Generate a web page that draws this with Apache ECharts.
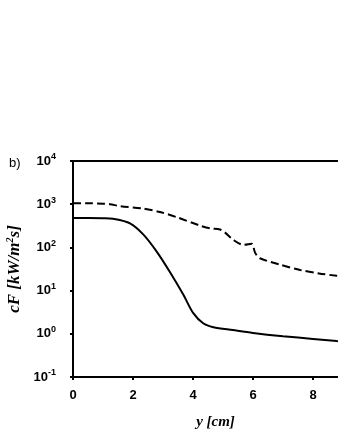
<!DOCTYPE html>
<html>
<head>
<meta charset="utf-8">
<script src="https://cdn.jsdelivr.net/npm/echarts@6/dist/echarts.min.js"></script>
<style>
  html, body { margin: 0; padding: 0; background: #fff; }
  #chart { width: 338px; height: 437px; }
</style>
</head>
<body>
<div id="chart"></div>
<script>
// values
var dashedX = [0, 0.5, 1.0, 1.23, 1.57, 2.34, 2.9, 3.46, 4.23, 4.57, 4.9, 5.07, 5.34, 5.68, 5.96, 6.07, 6.23, 6.9, 7.57, 8.2, 8.79, 9.5];
var dashedY = [1050, 1050, 1030, 1000, 900, 790, 660, 500, 320, 275, 260, 220, 150, 115, 122, 75, 56, 40, 30, 25, 22, 19];
var solidX = [0, 0.5, 1.0, 1.33, 1.9, 2.34, 2.79, 3.23, 3.68, 4.01, 4.34, 4.68, 5.33, 6.0, 7.0, 8.0, 8.79, 9.5];
var solidY = [480, 480, 475, 460, 360, 200, 80, 27, 8, 3, 1.75, 1.42, 1.22, 1.05, 0.88, 0.76, 0.68, 0.62];
var xTicks = [0, 2, 4, 6, 8];

function pairs(xs, ys) {
  return xs.map(function (x, i) { return [x, ys[i]]; });
}

var myChart = echarts.init(document.getElementById('chart'));
var option = {
  backgroundColor: '#fff',
  animation: false,
  title: {
    text: 'b)',
    left: 4,
    top: 152,
    textStyle: { fontFamily: 'Liberation Sans', fontSize: 13, fontWeight: 'normal', color: '#000' }
  },
  grid: {
    left: 73,
    top: 161,
    width: 285,
    height: 216,
    outerBoundsMode: 'none',
    containLabel: false,
    show: true,
    borderColor: '#000',
    borderWidth: 2
  },
  xAxis: {
    type: 'value',
    min: 0,
    max: 9.5,
    interval: 2,
    name: 'y [cm]',
    nameLocation: 'middle',
    nameGap: 38,
    nameTextStyle: { fontFamily: 'Liberation Serif', fontStyle: 'italic', fontWeight: 'bold', fontSize: 15, color: '#000' },
    axisLine: { lineStyle: { color: '#000', width: 2 } },
    axisTick: { show: true, length: 3, lineStyle: { color: '#000', width: 2 } },
    splitLine: { show: false },
    axisLabel: {
      margin: 12,
      fontFamily: 'Liberation Sans',
      fontWeight: 'bold',
      fontSize: 13,
      color: '#000',
      formatter: function (v) { return xTicks.indexOf(v) >= 0 ? String(v) : ''; }
    }
  },
  yAxis: {
    type: 'log',
    logBase: 10,
    min: 0.1,
    max: 10000,
    name: 'cF [kW/m{sup|2}s]',
    nameLocation: 'middle',
    nameRotate: 90,
    nameGap: 41,
    nameTextStyle: {
      fontFamily: 'Liberation Serif', fontStyle: 'italic', fontWeight: 'bold', fontSize: 17, color: '#000',
      rich: {
        sup: { fontFamily: 'Liberation Serif', fontStyle: 'italic', fontWeight: 'bold', fontSize: 10, verticalAlign: 'bottom', padding: [0, 0, 8, 0], color: '#000' }
      }
    },
    axisLine: { show: true, lineStyle: { color: '#000', width: 2 } },
    axisTick: { show: true, length: 3, lineStyle: { color: '#000', width: 2 } },
    splitLine: { show: false },
    axisLabel: {
      margin: 17,
      fontFamily: 'Liberation Sans',
      fontWeight: 'bold',
      fontSize: 13,
      color: '#000',
      formatter: function (v) {
        var e = Math.round(Math.log10(v));
        return '10{sup|' + e + '}';
      },
      rich: {
        sup: { fontFamily: 'Liberation Sans', fontWeight: 'bold', fontSize: 9, verticalAlign: 'bottom', padding: [0, 0, 8, 0], color: '#000' }
      }
    }
  },
  series: [
    {
      type: 'line',
      data: pairs(dashedX, dashedY),
      smooth: 0.3,
      showSymbol: false,
      lineStyle: { color: '#000', width: 2, type: [8, 4] }
    },
    {
      type: 'line',
      data: pairs(solidX, solidY),
      smooth: 0.3,
      showSymbol: false,
      lineStyle: { color: '#000', width: 2 }
    }
  ]
};
myChart.setOption(option);
</script>
</body>
</html>
